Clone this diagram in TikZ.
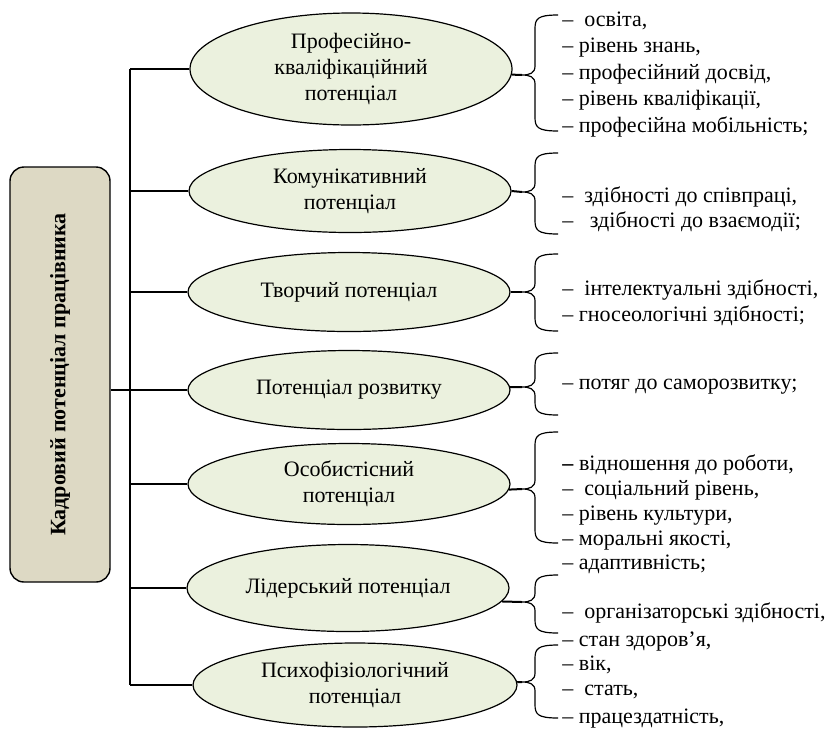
\documentclass[tikz,border=0pt]{standalone}
\usepackage{fontspec}
\setmainfont{Liberation Serif}
\usetikzlibrary{shapes.geometric}
\definecolor{ovalfill}{HTML}{EBF1DE}
\definecolor{boxfill}{HTML}{DDD9C4}
\tikzset{
  oval/.style={ellipse, draw, line width=0.6pt, fill=ovalfill, inner sep=0pt, minimum width=161pt, align=center},
  item/.style={anchor=mid west, inner sep=0pt},
  link/.style={line width=0.7pt},
  curl/.style={line width=0.6pt},
  tiplink/.style={line width=1pt},
}
\begin{document}
\begin{tikzpicture}[x=0.5pt,y=-0.5pt,font=\fontsize{11}{13}\selectfont]
    \useasboundingbox (0,0) rectangle (828,729);
    % main block
    \node[draw, line width=0.7pt, fill=boxfill, rounded corners=7pt, minimum width=50pt, minimum height=207.5pt, inner sep=0pt] (box) at (60,374.5)
        {\rotatebox{90}{\bfseries Кадровий потенціал працівника}};
    % ovals
    \node[oval, minimum height=56pt] (e1) at (351,69) {Професійно-\\кваліфікаційний\\потенціал};
    \node[oval, minimum height=41.5pt] (e2) at (350,191) {Комунікативний\\потенціал};
    \node[oval, minimum height=39.5pt] (e3) at (349,292) {Творчий потенціал};
    \node[oval, minimum height=39.5pt] (e4) at (349,390) {Потенціал розвитку};
    \node[oval, minimum height=40.5pt] (e5) at (349,484) {Особистісний\\потенціал};
    \node[oval, minimum height=43.5pt] (e6) at (348,588) {Лідерський потенціал};
    \node[oval, minimum height=42pt, minimum width=162pt] (e7) at (355,685) {Психофізіологічний\\потенціал};
    % spine and links
    \coordinate (sp) at (130,0);
    \draw[link] (sp |- e1.west) -- (sp |- e7.west);
    \draw[link] (box.east |- e4.west) -- (sp |- e4.west);
    \foreach \n in {1,...,7}
        \draw[link] (sp |- e\n.west) -- (e\n.west);
    % braces
    \foreach \n/\ya/\yt/\yb/\ang in {1/15/75/131/-2, 2/153/192/234/0, 3/254/292/331/0, 4/353/387/415/1,
                                     5/432/489/543/-2, 6/575/602/633/-5, 7/645/682/718/1}{
        \coordinate (t\n) at (522,\yt);
        \draw[curl] (558,\ya) .. controls (537,\ya) and (535,\ya+4) .. (535,\ya+14)
            -- (535,\yt-9) .. controls (535,\yt-2) and (530,\yt) .. (t\n)
            .. controls (530,\yt) and (535,\yt+2) .. (535,\yt+9)
            -- (535,\yb-14) .. controls (535,\yb-4) and (537,\yb) .. (558,\yb);
        \draw[tiplink] (e\n.\ang) -- (t\n);
    }
    % items
    \foreach \y/\t [count=\i] in {22/{–\ \ освіта,}, 48/{– рівень знань,}, 75/{– професійний досвід,},
            101/{– рівень кваліфікації,}, 128/{– професійна мобільність;},
            198/{–\ \ здібності до співпраці,}, 223/{–\ \ \ здібності до взаємодії;},
            291/{–\ \ інтелектуальні здібності,}, 317/{– гносеологічні здібності;},
            385/{– потяг до саморозвитку;},
            466/{\textbf{–} відношення до роботи,}, 491/{–\ \ соціальний рівень,},
            516/{– рівень культури,}, 541/{– моральні якості,},
            565/{– адаптивність;}, 614/{–\ \ організаторські здібності,},
            642/{– стан здоров’я,}, 666/{– вік,}, 691/{–\ \ стать,}, 719/{– працездатність,}}
        \node[item] (i\i) at (562,\y) {\t};
\end{tikzpicture}
\end{document}
